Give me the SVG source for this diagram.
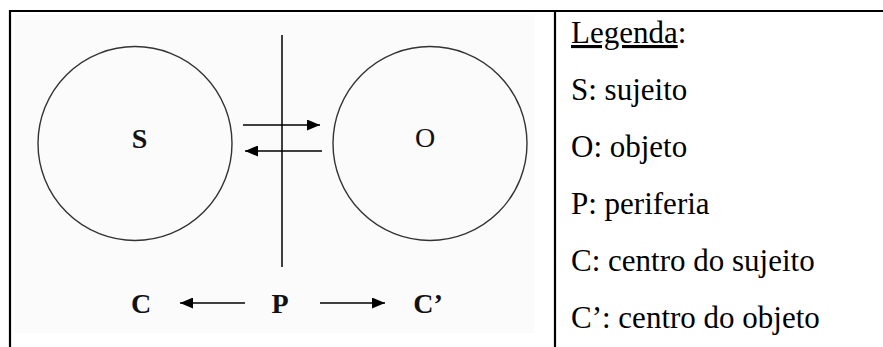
<svg xmlns="http://www.w3.org/2000/svg" width="883" height="347" viewBox="0 0 883 347">
<style>
.border{stroke:#000;stroke-width:2.2;fill:none}
.circ{fill:none;stroke:#333;stroke-width:1.4}
.ln{stroke:#000;stroke-width:1.5;fill:none}
.lbl{font-family:'Liberation Serif','Times New Roman',Times,serif;font-size:28px;font-weight:bold;fill:#111;text-anchor:middle}
.leg{font-family:'Liberation Serif','Times New Roman',Times,serif;font-size:31px;fill:#000}
</style>
<defs>
<marker id="ah" viewBox="0 0 13 11" refX="13" refY="5.5" markerWidth="13" markerHeight="11" markerUnits="userSpaceOnUse" orient="auto">
<path d="M0,0 L13,5.5 L0,11 Z" fill="#000"/>
</marker>
</defs>
<rect x="0" y="0" width="883" height="347" fill="#fff"/>
<rect x="14" y="15" width="520" height="318" fill="#fbfbfb"/>
<g id="table">
<line class="border" x1="9" y1="11" x2="883" y2="11"/>
<line class="border" x1="10" y1="10" x2="10" y2="347"/>
<line class="border" x1="555" y1="10" x2="555" y2="347"/>
</g>
<g id="node-S">
<circle class="circ" cx="135" cy="143.5" r="97"/>
<text class="lbl" x="139.5" y="148">S</text>
</g>
<g id="node-O">
<circle class="circ" cx="430" cy="143.5" r="97"/>
<text class="lbl" x="425" y="147" style="font-weight:normal">O</text>
</g>
<g id="node-P">
<line class="ln" x1="282" y1="35" x2="282" y2="267"/>
<text class="lbl" x="280" y="313">P</text>
</g>
<g id="node-C">
<text class="lbl" x="141" y="313">C</text>
</g>
<g id="node-C2">
<text class="lbl" x="428" y="313">C’</text>
</g>
<g id="connectors">
<line class="ln" x1="243" y1="125" x2="320" y2="125" marker-end="url(#ah)"/>
<line class="ln" x1="322" y1="151" x2="245" y2="151" marker-end="url(#ah)"/>
<line class="ln" x1="245" y1="303" x2="180" y2="303" marker-end="url(#ah)"/>
<line class="ln" x1="320" y1="303" x2="385" y2="303" marker-end="url(#ah)"/>
</g>
<g id="legend">
<text class="leg" x="571" y="43"><tspan text-decoration="underline">Legenda</tspan>:</text>
<text class="leg" x="571" y="100">S: sujeito</text>
<text class="leg" x="571" y="157">O: objeto</text>
<text class="leg" x="571" y="214">P: periferia</text>
<text class="leg" x="571" y="271">C: centro do sujeito</text>
<text class="leg" x="571" y="328">C’: centro do objeto</text>
</g>
</svg>
